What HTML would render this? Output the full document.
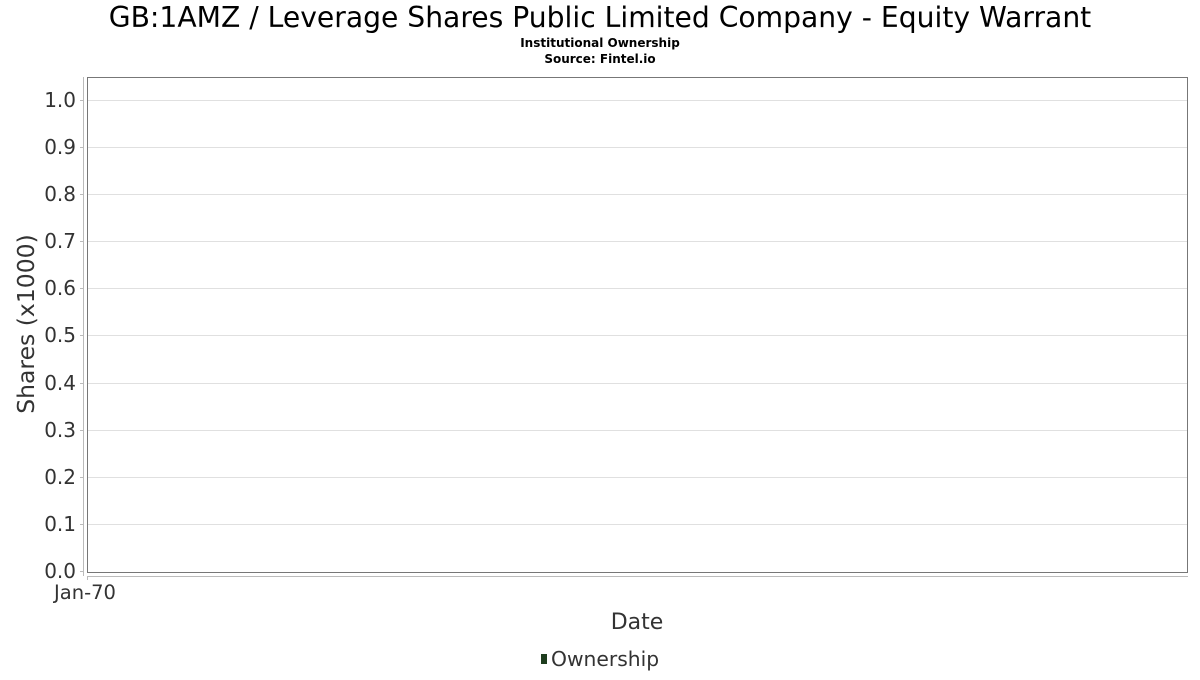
<!DOCTYPE html>
<html><head><style>
body{margin:0;width:1200px;height:675px;background:#fff;overflow:hidden}
svg text{font-family:"DejaVu Sans","Liberation Sans",sans-serif}
</style></head><body>
<svg width="1200" height="675" xmlns="http://www.w3.org/2000/svg">
<text x="600" y="27" font-size="28.2" text-anchor="middle" fill="#000">GB:1AMZ / Leverage Shares Public Limited Company - Equity Warrant</text>
<text x="600" y="47" font-size="12" font-weight="bold" text-anchor="middle" fill="#000">Institutional Ownership</text>
<text x="600" y="63" font-size="12" font-weight="bold" text-anchor="middle" fill="#000">Source: Fintel.io</text>
<g stroke="#e0e0e0" stroke-width="1">
<line x1="88" x2="1188" y1="100.5" y2="100.5"/><line x1="88" x2="1188" y1="147.5" y2="147.5"/>
<line x1="88" x2="1188" y1="194.5" y2="194.5"/><line x1="88" x2="1188" y1="241.5" y2="241.5"/>
<line x1="88" x2="1188" y1="288.5" y2="288.5"/><line x1="88" x2="1188" y1="335.5" y2="335.5"/>
<line x1="88" x2="1188" y1="383.5" y2="383.5"/><line x1="88" x2="1188" y1="430.5" y2="430.5"/>
<line x1="88" x2="1188" y1="477.5" y2="477.5"/><line x1="88" x2="1188" y1="524.5" y2="524.5"/>
</g>
<rect x="87.5" y="77.5" width="1100" height="495" fill="none" stroke="#777" stroke-width="1"/>
<line x1="83.5" y1="77" x2="83.5" y2="576" stroke="#bbb"/>
<line x1="87" y1="576.5" x2="1188" y2="576.5" stroke="#bbb"/>
<g stroke="#bbb">
<line x1="80" x2="83" y1="100.5" y2="100.5"/><line x1="80" x2="83" y1="147.5" y2="147.5"/><line x1="80" x2="83" y1="194.5" y2="194.5"/><line x1="80" x2="83" y1="241.5" y2="241.5"/><line x1="80" x2="83" y1="288.5" y2="288.5"/><line x1="80" x2="83" y1="335.5" y2="335.5"/><line x1="80" x2="83" y1="383.5" y2="383.5"/><line x1="80" x2="83" y1="430.5" y2="430.5"/><line x1="80" x2="83" y1="477.5" y2="477.5"/><line x1="80" x2="83" y1="524.5" y2="524.5"/><line x1="80" x2="83" y1="571.5" y2="571.5"/>
<line x1="87.5" x2="87.5" y1="576" y2="580"/>
</g>
<g font-size="20" fill="#333" text-anchor="end">
<text x="76" y="107">1.0</text><text x="76" y="154">0.9</text><text x="76" y="201">0.8</text><text x="76" y="248">0.7</text><text x="76" y="295">0.6</text><text x="76" y="342">0.5</text><text x="76" y="390">0.4</text><text x="76" y="437">0.3</text><text x="76" y="484">0.2</text><text x="76" y="531">0.1</text><text x="76" y="578">0.0</text>
</g>
<text x="85" y="599" font-size="19.5" fill="#333" text-anchor="middle">Jan-70</text>
<text x="637" y="629" font-size="22" fill="#333" text-anchor="middle">Date</text>
<text transform="translate(34,324) rotate(-90)" font-size="23.5" fill="#333" text-anchor="middle">Shares (x1000)</text>
<rect x="541" y="654" width="6" height="10" fill="#1e3d1e"/>
<text x="551" y="666" font-size="20.3" fill="#333">Ownership</text>
</svg>
</body></html>
